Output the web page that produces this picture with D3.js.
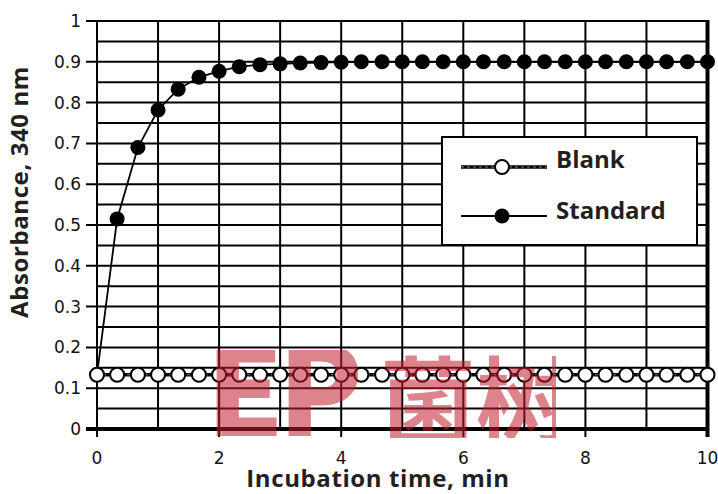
<!DOCTYPE html>
<html>
<head>
<meta charset="utf-8">
<script src="https://cdn.jsdelivr.net/npm/d3@7"></script>
<style>
  body { margin: 0; background: #fff; }
  svg { display: block; }
</style>
</head>
<body>
<svg id="chart"></svg>
<script>
// sampling times, min (every 20 s)
var times = [0, 0.33, 0.67, 1, 1.33, 1.67, 2, 2.33, 2.67, 3, 3.33, 3.67, 4, 4.33, 4.67, 5,
             5.33, 5.67, 6, 6.33, 6.67, 7, 7.33, 7.67, 8, 8.33, 8.67, 9, 9.33, 9.67, 10];
var standard = [0.133, 0.515, 0.69, 0.782, 0.833, 0.862, 0.877, 0.888, 0.893, 0.895, 0.897,
                0.898, 0.899, 0.9, 0.9, 0.9, 0.9, 0.9, 0.9, 0.9, 0.9, 0.9, 0.9, 0.9,
                0.9, 0.9, 0.9, 0.9, 0.9, 0.9, 0.9];
var blank = [0.133, 0.133, 0.133, 0.133, 0.133, 0.133, 0.133, 0.133, 0.133, 0.133, 0.133,
             0.133, 0.133, 0.133, 0.133, 0.133, 0.133, 0.133, 0.133, 0.133, 0.133, 0.133,
             0.133, 0.133, 0.133, 0.133, 0.133, 0.133, 0.133, 0.133, 0.133];
var xLabels = [0, 2, 4, 6, 8, 10];
var yLabels = [0, 0.1, 0.2, 0.3, 0.4, 0.5, 0.6, 0.7, 0.8, 0.9, 1];
var yMinor = [0.05, 0.15, 0.25, 0.35, 0.45, 0.55, 0.65, 0.75, 0.85, 0.95];
var xGrid = [1, 2, 3, 4, 5, 6, 7, 8, 9];
var seriesNames = ["Blank", "Standard"];

var width = 718, height = 494;
var svg = d3.select("#chart").attr("width", width).attr("height", height);

var x = d3.scaleLinear().domain([0, 10]).range([97, 707.5]);
var y = d3.scaleLinear().domain([0, 1]).range([429, 21]);

var tickFont = "'DejaVu Sans', sans-serif";
var boldFont = "'Open Sans', sans-serif";
var ink = "#231f20";

// grid
var grid = svg.append("g").attr("stroke", "#000").attr("stroke-width", 2);
grid.selectAll(".minor").data(yMinor).enter().append("line")
  .attr("x1", x(0)).attr("x2", x(10))
  .attr("y1", d => y(d)).attr("y2", d => y(d));
grid.selectAll(".major").data(yLabels).enter().append("line")
  .attr("x1", x(0) - 11).attr("x2", x(10))
  .attr("y1", d => y(d)).attr("y2", d => y(d))
  .attr("stroke-width", d => d === 0 ? 4 : 2);
grid.selectAll(".vx").data(xGrid).enter().append("line")
  .attr("x1", d => x(d)).attr("x2", d => x(d))
  .attr("y1", y(1)).attr("y2", d => d % 2 === 0 ? y(0) + 8 : y(0));
// left axis and right frame
grid.append("line").attr("x1", x(0)).attr("x2", x(0)).attr("y1", y(1)).attr("y2", y(0) + 8);
grid.append("line").attr("x1", x(10)).attr("x2", x(10)).attr("y1", y(1) - 1).attr("y2", y(0) + 8)
  .attr("stroke-width", 4);

// tick labels
svg.append("g").selectAll("text").data(yLabels).enter().append("text")
  .attr("x", 81).attr("y", d => y(d) + 6)
  .attr("text-anchor", "end")
  .attr("font-family", tickFont).attr("font-size", 17).attr("fill", "#111")
  .text(d => d);
svg.append("g").selectAll("text").data(xLabels).enter().append("text")
  .attr("x", d => x(d)).attr("y", 464)
  .attr("text-anchor", "middle")
  .attr("font-family", tickFont).attr("font-size", 17).attr("fill", "#111")
  .text(d => d);

// axis titles
svg.append("text")
  .attr("transform", "translate(28,192) rotate(-90)")
  .attr("text-anchor", "middle")
  .attr("font-family", boldFont).attr("font-weight", "bold").attr("font-size", 24)
  .attr("letter-spacing", 0.6)
  .attr("fill", ink)
  .text("Absorbance, 340 nm");
svg.append("text")
  .attr("x", 378).attr("y", 487)
  .attr("text-anchor", "middle")
  .attr("font-family", boldFont).attr("font-weight", "bold").attr("font-size", 24)
  .attr("letter-spacing", 0.6)
  .attr("fill", ink)
  .text("Incubation time, min");

// series
var line = d3.line().x(d => x(d[0])).y(d => y(d[1]));
var stdPts = times.map((t, i) => [t, standard[i]]);
var blankPts = times.map((t, i) => [t, blank[i]]);

svg.append("path").datum(stdPts).attr("d", line)
  .attr("fill", "none").attr("stroke", "#000").attr("stroke-width", 1.8);
svg.append("g").selectAll("circle").data(stdPts).enter().append("circle")
  .attr("cx", d => x(d[0])).attr("cy", d => y(d[1])).attr("r", 7.5)
  .attr("fill", "#000");

svg.append("path").datum(blankPts).attr("d", line)
  .attr("fill", "none").attr("stroke", "#000").attr("stroke-width", 3.5);
svg.append("path").datum(blankPts).attr("d", line)
  .attr("fill", "none").attr("stroke", "#fff").attr("stroke-width", 1)
  .attr("stroke-dasharray", "3,3").attr("opacity", 0.5);
svg.append("g").selectAll("circle").data(blankPts).enter().append("circle")
  .attr("cx", d => x(d[0])).attr("cy", d => y(d[1])).attr("r", 7)
  .attr("fill", "#fff").attr("stroke", "#000").attr("stroke-width", 2);

// legend
var lg = svg.append("g");
lg.append("rect").attr("x", 442).attr("y", 137).attr("width", 255).attr("height", 108)
  .attr("fill", "#fff").attr("stroke", "#000").attr("stroke-width", 2);
var rows = lg.selectAll(".row").data(seriesNames).enter().append("g")
  .attr("transform", (d, i) => "translate(0," + (167 + i * 49) + ")");
rows.append("line").attr("x1", 461).attr("x2", 547).attr("y1", 0).attr("y2", 0)
  .attr("stroke", "#000").attr("stroke-width", d => d === "Blank" ? 3.5 : 1.8);
rows.filter(d => d === "Blank").append("line").attr("x1", 461).attr("x2", 547)
  .attr("stroke", "#fff").attr("stroke-width", 1).attr("stroke-dasharray", "3,3").attr("opacity", 0.5);
rows.append("circle").attr("cx", 502).attr("cy", 0).attr("r", d => d === "Blank" ? 7 : 7.5)
  .attr("fill", d => d === "Blank" ? "#fff" : "#000")
  .attr("stroke", "#000").attr("stroke-width", d => d === "Blank" ? 2 : 0);
rows.append("text").attr("x", 556).attr("y", d => d === "Blank" ? 1 : 3)
  .attr("font-family", boldFont).attr("font-weight", "bold").attr("font-size", 24)
  .attr("fill", ink)
  .text(d => d);

// watermark
svg.append("clipPath").attr("id", "wm").append("rect")
  .attr("x", 212).attr("y", 350).attr("width", 344).attr("height", 88);
var wm = svg.append("g").attr("clip-path", "url(#wm)").attr("opacity", 0.55)
  .attr("fill", "rgb(195,30,48)");
wm.append("text").attr("x", 206).attr("y", 436)
  .attr("font-family", "'Noto Sans CJK SC', sans-serif").attr("font-weight", "900")
  .attr("font-size", 124).attr("letter-spacing", -6)
  .text("EP");
wm.append("text").attr("x", 380).attr("y", 437)
  .attr("font-family", "'Noto Sans CJK SC', sans-serif").attr("font-weight", "bold")
  .attr("font-size", 96)
  .text("菌树");
</script>
</body>
</html>
